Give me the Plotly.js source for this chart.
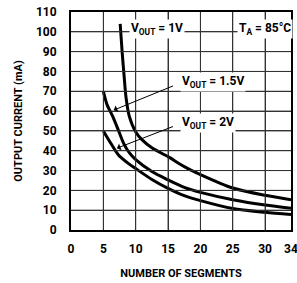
<!DOCTYPE html>
<html>
<head>
<meta charset="utf-8">
<script src="https://cdn.plot.ly/plotly-3.0.1.min.js"></script>
<style>
html,body{margin:0;padding:0;background:#fff;}
#chart{width:297px;height:283px;}
</style>
</head>
<body>
<div id="chart"></div>
<script>
// Series
const segments1V  = [7.6, 7.9, 8.2, 8.5, 9.0, 10, 11, 12.5, 15, 17.5, 20, 25, 30, 34];
const current1V   = [104, 90, 78, 67, 57.5, 49.5, 45.5, 41.5, 37, 32, 28, 21.2, 17.5, 15.3];
const segments15V = [5, 5.6, 6.5, 7.3, 8.1, 9, 10, 12.5, 15, 17.5, 20, 25, 30, 34];
const current15V  = [70, 63, 57, 50.5, 44, 39, 35.5, 29.5, 25.3, 21.5, 19, 15.3, 12.6, 11];
const segments2V  = [5, 6.2, 7.3, 8.9, 10, 12.5, 15, 17.5, 20, 25, 30, 34];
const current2V   = [50, 43.5, 38, 33.5, 31, 25.5, 21, 17.3, 14.8, 10.8, 8.9, 7.8];
const xTicks = [0, 5, 10, 15, 20, 25, 30, 34];
const yTicks = [0, 10, 20, 30, 40, 50, 60, 70, 80, 90, 100, 110];

const FONT = 'Roboto, sans-serif';
const lineStyle = {color: '#000', width: 3, shape: 'spline', smoothing: 0.8};
const data = [
  {x: segments1V, y: current1V, mode: 'lines', line: lineStyle, hoverinfo: 'skip'},
  {x: segments15V, y: current15V, mode: 'lines', line: lineStyle, hoverinfo: 'skip'},
  {x: segments2V, y: current2V, mode: 'lines', line: lineStyle, hoverinfo: 'skip'}
];

// grid lines placed at the tick values, through the axis scales
const gridStyle = {color: '#333', width: 1};
const gridShapes = []
  .concat(xTicks.slice(1, -1).map(t => ({type: 'line', xref: 'x', yref: 'paper', x0: t, x1: t, y0: 0, y1: 1, line: gridStyle, layer: 'above'})))
  .concat(yTicks.slice(1, -1).map(t => ({type: 'line', xref: 'paper', yref: 'y', x0: 0, x1: 1, y0: t, y1: t, line: gridStyle, layer: 'above'})));

const labelFont = {family: FONT, size: 12, color: '#000', weight: 700};
const layout = {
  width: 297, height: 283,
  margin: {l: 71, r: 6, t: 12, b: 53},
  showlegend: false,
  font: {family: FONT, size: 12, color: '#000', weight: 700},
  shapes: gridShapes,
  xaxis: {
    range: [0, 34], tickvals: xTicks,
    showgrid: true, gridcolor: '#333', gridwidth: 1,
    showline: true, linecolor: '#000', linewidth: 2, mirror: true,
    zeroline: false, ticks: 'outside', ticklen: 7, tickcolor: '#fff',
    ticklabeloverflow: 'allow',
    title: {text: 'NUMBER OF SEGMENTS', font: {size: 11}, standoff: 14}
  },
  yaxis: {
    range: [0, 110], tickvals: yTicks,
    showgrid: true, gridcolor: '#333', gridwidth: 1,
    showline: true, linecolor: '#000', linewidth: 2, mirror: true,
    zeroline: false, ticks: 'outside', ticklen: 10, tickcolor: '#fff',
    title: {text: 'OUTPUT CURRENT (mA)', font: {size: 11}, standoff: 11}
  },
  annotations: [
    {x: 8.9, y: 101.5, xanchor: 'left', yanchor: 'middle', showarrow: false,
     text: 'V<sub>OUT</sub> = 1V', font: labelFont, bgcolor: '#fff', borderpad: 1},
    {x: 25.6, y: 101.5, xanchor: 'left', yanchor: 'middle', showarrow: false,
     text: 'T<sub>A</sub> = 85°C', font: labelFont, bgcolor: '#fff', borderpad: 1},
    {x: 16.8, y: 74.7, xanchor: 'left', yanchor: 'middle', showarrow: false,
     text: 'V<sub>OUT</sub> = 1.5V', font: labelFont, bgcolor: '#fff', borderpad: 1},
    {x: 16.8, y: 54, xanchor: 'left', yanchor: 'middle', showarrow: false,
     text: 'V<sub>OUT</sub> = 2V', font: labelFont, bgcolor: '#fff', borderpad: 1},
    {x: 6.6, y: 60.5, ax: 16.0, ay: 73, axref: 'x', ayref: 'y', text: '',
     showarrow: true, arrowhead: 1, arrowsize: 1.2, arrowwidth: 1, arrowcolor: '#000'},
    {x: 7.1, y: 41.3, ax: 16.0, ay: 52.5, axref: 'x', ayref: 'y', text: '',
     showarrow: true, arrowhead: 1, arrowsize: 1.2, arrowwidth: 1, arrowcolor: '#000'}
  ]
};
Plotly.newPlot('chart', data, layout, {staticPlot: true, displayModeBar: false});
</script>
</body>
</html>
